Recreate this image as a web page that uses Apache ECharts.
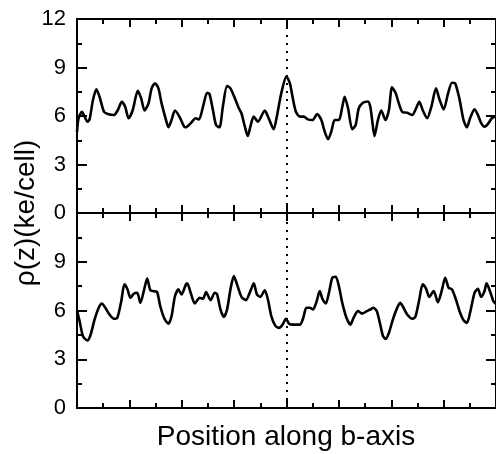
<!DOCTYPE html>
<html>
<head>
<meta charset="utf-8">
<script src="https://cdn.jsdelivr.net/npm/echarts@6/dist/echarts.min.js"></script>
<style>html,body{margin:0;padding:0;background:#fff}#c{width:496px;height:454px}</style>
</head>
<body>
<div id="c"></div>
<script>
var yTicks = [0, 3, 6, 9, 12];
var markerPos = 8;
var xTitle = 'Position along b-axis';
var yTitle = 'ρ(z)(ke/cell)';

var topX = [0,0.06,0.19,0.29,0.40,0.48,0.61,0.74,0.86,1.03,1.18,1.41,1.56,1.71,1.84,1.97,2.13,2.32,2.45,2.58,2.73,2.85,2.98,3.11,3.23,3.40,3.49,3.61,3.74,3.91,4.09,4.15,4.34,4.53,4.66,4.81,4.97,5.06,5.19,5.31,5.44,5.57,5.73,5.86,6.03,6.18,6.28,6.41,6.52,6.62,6.75,6.91,7.17,7.32,7.51,7.63,7.80,8.00,8.13,8.23,8.36,8.51,8.66,8.82,8.99,9.17,9.33,9.46,9.59,9.71,9.84,10.00,10.13,10.22,10.35,10.51,10.64,10.76,10.92,11.11,11.20,11.27,11.36,11.49,11.62,11.78,11.91,12.03,12.16,12.29,12.42,12.61,12.80,12.95,13.07,13.20,13.37,13.53,13.71,13.83,14.00,14.17,14.32,14.44,14.60,14.76,14.89,15.01,15.18,15.31,15.43,15.56,15.71,15.84,16.0];
var topY = [5.00,5.86,6.26,5.96,5.65,5.79,6.99,7.65,7.19,6.26,6.12,6.06,6.37,6.88,6.57,5.86,6.37,7.56,7.09,6.34,6.78,7.71,8.02,7.71,6.78,5.75,5.30,5.75,6.34,5.96,5.34,5.30,5.55,5.86,5.79,6.57,7.44,7.36,6.37,5.44,5.30,6.57,7.85,7.71,7.09,6.48,6.17,5.34,4.76,5.34,5.96,5.65,6.34,5.86,5.18,5.96,7.40,8.45,8.02,7.19,6.26,5.96,5.96,5.79,5.75,6.12,5.75,5.03,4.56,5.03,5.75,5.75,6.57,7.19,6.48,5.18,5.44,6.48,6.82,6.90,6.57,5.75,4.76,5.75,6.34,5.75,6.37,7.77,7.45,6.78,6.26,6.20,6.06,6.48,6.88,6.37,5.86,6.57,7.71,7.09,6.41,7.40,8.06,8.02,7.09,5.75,5.30,5.86,6.41,6.06,5.58,5.34,5.55,5.86,6.00];

var botX = [0,0.10,0.23,0.40,0.52,0.67,0.83,0.95,1.08,1.24,1.41,1.54,1.69,1.81,1.92,2.04,2.17,2.30,2.42,2.55,2.68,2.80,2.93,3.06,3.18,3.34,3.49,3.61,3.74,3.87,3.99,4.16,4.21,4.34,4.50,4.68,4.81,4.93,5.10,5.26,5.35,5.48,5.61,5.73,5.86,5.99,6.11,6.28,6.45,6.62,6.75,6.87,7.00,7.17,7.29,7.42,7.57,7.72,7.85,7.98,8.10,8.25,8.51,8.63,8.76,8.89,9.01,9.14,9.27,9.37,9.50,9.62,9.75,9.88,10.00,10.13,10.29,10.44,10.56,10.73,10.89,11.07,11.20,11.32,11.45,11.58,11.68,11.78,11.91,12.06,12.21,12.34,12.44,12.61,12.80,12.92,13.07,13.20,13.33,13.45,13.62,13.78,13.94,14.06,14.19,14.32,14.47,14.63,14.76,14.89,15.01,15.18,15.31,15.43,15.56,15.64,15.77,15.90,16.0];
var botY = [6.00,5.34,4.41,4.16,4.51,5.44,6.17,6.43,6.17,5.75,5.49,5.55,6.57,7.61,7.34,6.78,7.03,7.09,6.47,7.19,7.96,7.25,7.19,7.13,6.26,5.49,5.19,5.65,6.88,7.30,6.99,7.61,7.67,7.09,6.43,6.78,6.72,7.13,6.64,7.09,6.99,6.06,5.61,6.06,7.30,8.12,7.61,6.84,6.64,7.19,7.67,6.99,6.84,7.25,6.68,5.65,5.07,4.93,5.13,5.49,5.19,5.13,5.13,5.49,6.17,6.17,6.06,6.51,7.19,6.72,6.43,7.09,8.02,8.08,7.50,6.47,5.55,5.13,5.55,5.96,5.81,5.96,6.06,6.17,5.96,5.13,4.45,4.25,4.62,5.44,6.10,6.47,6.26,5.75,5.49,5.61,6.68,7.61,7.34,6.84,7.19,6.51,7.30,8.02,7.40,7.30,6.68,5.86,5.40,5.24,5.86,7.09,7.34,6.84,7.19,7.67,7.19,6.57,6.40];

function zip(a, b) { return a.map(function (v, i) { return [v, b[i]]; }); }

var FONT = 'Liberation Sans, Arial, Helvetica, sans-serif';
var axisLineStyle = { color: '#000', width: 2 };

function xAx(gi, pos) {
  return {
    type: 'value', gridIndex: gi, position: pos, min: 0, max: 16, interval: 2,
    axisLine: { show: true, onZero: false, lineStyle: axisLineStyle },
    axisTick: { show: true, inside: true, length: 8, lineStyle: { color: '#000', width: 2 } },
    minorTick: { show: true, splitNumber: 2, length: 5, lineStyle: { color: '#000', width: 2 } },
    axisLabel: { show: false }, splitLine: { show: false }, minorSplitLine: { show: false }
  };
}
function yAx(gi, pos, labels, hideMax) {
  return {
    type: 'value', gridIndex: gi, position: pos, min: yTicks[0], max: yTicks[yTicks.length - 1], interval: 3,
    axisLine: { show: true, onZero: false, lineStyle: axisLineStyle },
    axisTick: { show: true, inside: true, length: 10, lineStyle: { color: '#000', width: 2 } },
    minorTick: { show: true, splitNumber: 2, length: 5, lineStyle: { color: '#000', width: 2 } },
    axisLabel: { show: labels, showMaxLabel: !hideMax, margin: 11, color: '#000', fontSize: 22, fontFamily: FONT },
    splitLine: { show: false }, minorSplitLine: { show: false }
  };
}
function markL() {
  return {
    silent: true, symbol: 'none', label: { show: false },
    lineStyle: { color: '#000', type: [2, 6], width: 2 },
    data: [{ xAxis: markerPos }]
  };
}

var chart = echarts.init(document.getElementById('c'), null, { renderer: 'canvas' });
chart.setOption({
  backgroundColor: '#fff',
  animation: false,
  grid: [
    { left: 77, top: 19, width: 420, height: 194 },
    { left: 77, top: 213, width: 420, height: 195 }
  ],
  xAxis: [xAx(0, 'bottom'), xAx(0, 'top'), xAx(1, 'bottom'), xAx(1, 'top')],
  yAxis: [yAx(0, 'left', true, false), yAx(0, 'right', false, false), yAx(1, 'left', true, true), yAx(1, 'right', false, true)],
  series: [
    { type: 'line', xAxisIndex: 0, yAxisIndex: 0, data: zip(topX, topY), showSymbol: false, smooth: 0.25,
      lineStyle: { color: '#000', width: 2.6 }, markLine: markL() },
    { type: 'line', xAxisIndex: 2, yAxisIndex: 2, data: zip(botX, botY), showSymbol: false, smooth: 0.25,
      lineStyle: { color: '#000', width: 2.6 }, markLine: markL() }
  ],
  graphic: [
    { type: 'text', x: 26, y: 213, rotation: Math.PI / 2,
      style: { text: yTitle, fill: '#000', font: '28px ' + FONT, align: 'center', verticalAlign: 'middle' } },
    { type: 'text', x: 286, y: 437,
      style: { text: xTitle, fill: '#000', font: '28px ' + FONT, align: 'center', verticalAlign: 'middle' } }
  ]
});
</script>
</body>
</html>
